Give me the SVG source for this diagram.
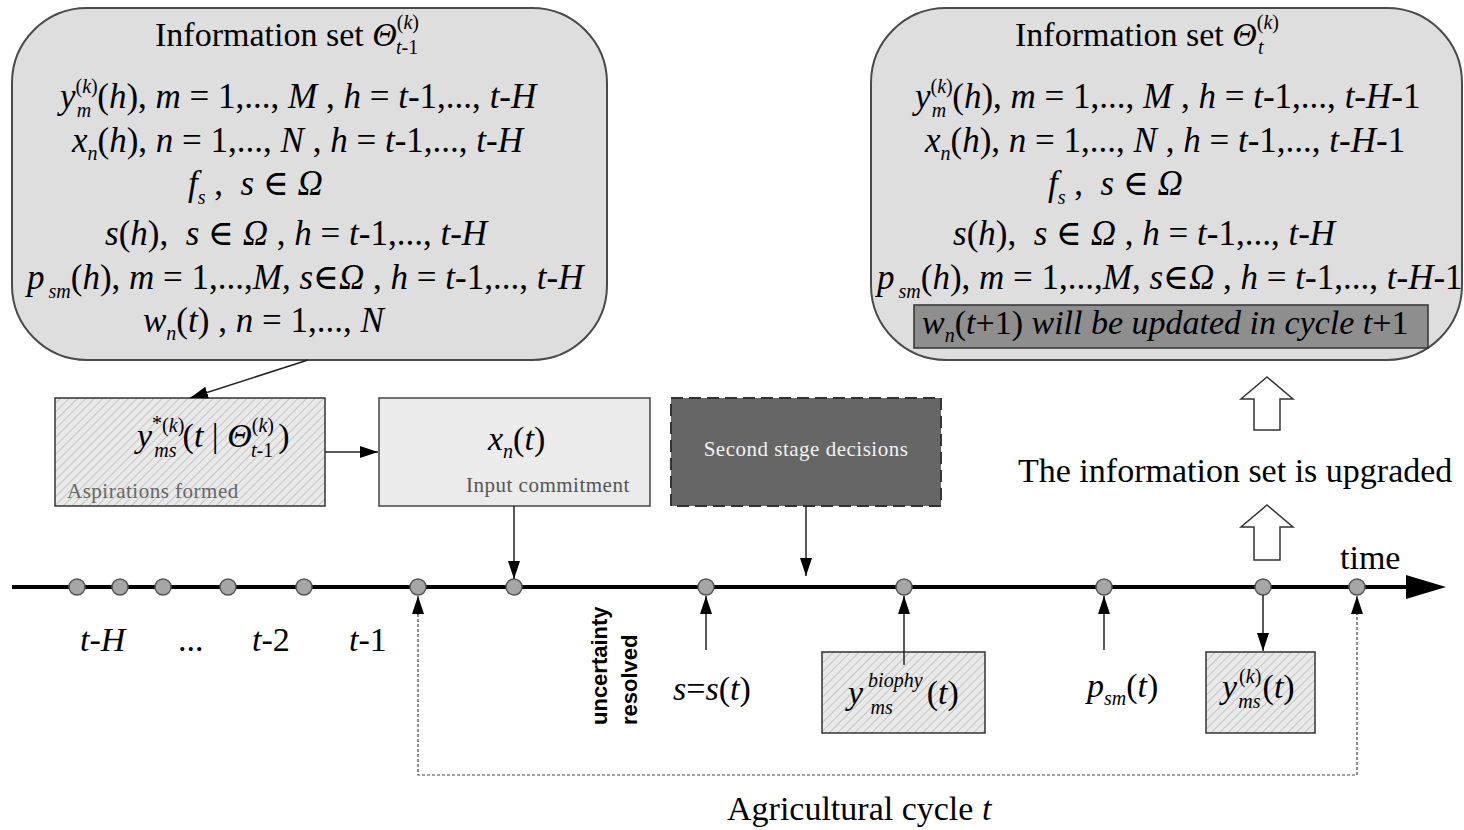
<svg xmlns="http://www.w3.org/2000/svg" width="1464" height="830" viewBox="0 0 1464 830">
<style>
.m{font-family:"Liberation Serif","DejaVu Serif",serif;font-size:34px;fill:#000}
.b{font-size:35px}
.i{font-style:italic}
.s{font-size:20px}
.lbl{font-family:"Liberation Serif",serif;font-size:21px;letter-spacing:0.5px}
.bub{fill:#dedede;stroke:#4a4a4a;stroke-width:2}
.dot{fill:#a6a6a6;stroke:#555;stroke-width:1.5}
.ar{stroke:#222;stroke-width:1.5;fill:none}
.dt{stroke:#444;stroke-width:1.2;fill:none;stroke-dasharray:3 2}
.hollow{fill:#fff;stroke:#333;stroke-width:1.5}
.unc{font-family:"Liberation Sans",Arial,sans-serif;font-weight:bold;font-size:22px}
</style>
<defs>
<pattern id="hatch" width="6" height="6" patternUnits="userSpaceOnUse" patternTransform="rotate(45)">
<rect width="6" height="6" fill="#e9e9e9"/>
<line x1="0" y1="0" x2="0" y2="6" stroke="#b2b2b2" stroke-width="1.3"/>
</pattern>
<marker id="ah" viewBox="0 0 18 12" refX="18" refY="6" markerWidth="18" markerHeight="12" markerUnits="userSpaceOnUse" orient="auto">
<path d="M0,0 L18,6 L0,12 z" fill="#000"/>
</marker>
</defs>
<rect width="1464" height="830" fill="#fff"/>

<g id="info-prev">
<rect class="bub" x="12" y="8" width="595" height="352" rx="75" ry="75"/>
<text class="m" x="155" y="46">Information set <tspan class="i">Θ</tspan><tspan class="s" dy="-17">(<tspan class="i">k</tspan>)</tspan><tspan class="s" dx="-23" dy="25"><tspan class="i">t</tspan>-1</tspan></text>
<text class="m b" x="60" y="108"><tspan class="i">y</tspan><tspan class="s" dy="-15">(<tspan class="i">k</tspan>)</tspan><tspan class="s i" dx="-21" dy="24">m</tspan><tspan dx="6" dy="-9">(<tspan class="i">h</tspan>), <tspan class="i">m</tspan> = 1,..., <tspan class="i">M</tspan> , <tspan class="i">h</tspan> = <tspan class="i">t</tspan>-1,..., <tspan class="i">t</tspan>-<tspan class="i">H</tspan></tspan></text>
<text class="m b" x="72" y="152"><tspan class="i">x</tspan><tspan class="s i" dy="8">n</tspan><tspan dy="-8">(<tspan class="i">h</tspan>), <tspan class="i">n</tspan> = 1,..., <tspan class="i">N</tspan> , <tspan class="i">h</tspan> = <tspan class="i">t</tspan>-1,..., <tspan class="i">t</tspan>-<tspan class="i">H</tspan></tspan></text>
<text class="m b" x="188" y="195"><tspan class="i">f</tspan><tspan class="s i" dy="9">s</tspan><tspan dy="-9"> ,&#160;&#160;<tspan class="i">s</tspan> ∈ <tspan class="i">Ω</tspan></tspan></text>
<text class="m b" x="105" y="245"><tspan class="i">s</tspan>(<tspan class="i">h</tspan>),&#160;&#160;<tspan class="i">s</tspan> ∈ <tspan class="i">Ω</tspan> , <tspan class="i">h</tspan> = <tspan class="i">t</tspan>-1,..., <tspan class="i">t</tspan>-<tspan class="i">H</tspan></text>
<text class="m b" x="27" y="289"><tspan class="i">p</tspan><tspan class="s i" dx="4" dy="9">sm</tspan><tspan dy="-9">(<tspan class="i">h</tspan>), <tspan class="i">m</tspan> = 1,...,<tspan class="i">M,</tspan> <tspan class="i">s</tspan>∈<tspan class="i">Ω</tspan> , <tspan class="i">h</tspan> = <tspan class="i">t</tspan>-1,..., <tspan class="i">t</tspan>-<tspan class="i">H</tspan></tspan></text>
<text class="m b" x="143" y="332"><tspan class="i">w</tspan><tspan class="s i" dy="8">n</tspan><tspan dy="-8">(<tspan class="i">t</tspan>) , <tspan class="i">n</tspan> = 1,..., <tspan class="i">N</tspan></tspan></text>
</g>

<g id="info-next">
<rect class="bub" x="871" y="8" width="591" height="352" rx="75" ry="75"/>
<rect x="914" y="305" width="514" height="43" fill="#8e8e8e" stroke="#333" stroke-width="1.5"/>
<text class="m" x="1015" y="46">Information set <tspan class="i">Θ</tspan><tspan class="s" dy="-17">(<tspan class="i">k</tspan>)</tspan><tspan class="s i" dx="-21" dy="25">t</tspan></text>
<text class="m b" x="915" y="108"><tspan class="i">y</tspan><tspan class="s" dy="-15">(<tspan class="i">k</tspan>)</tspan><tspan class="s i" dx="-21" dy="24">m</tspan><tspan dx="6" dy="-9">(<tspan class="i">h</tspan>), <tspan class="i">m</tspan> = 1,..., <tspan class="i">M</tspan> , <tspan class="i">h</tspan> = <tspan class="i">t</tspan>-1,..., <tspan class="i">t</tspan>-<tspan class="i">H</tspan>-1</tspan></text>
<text class="m b" x="925" y="152"><tspan class="i">x</tspan><tspan class="s i" dy="8">n</tspan><tspan dy="-8">(<tspan class="i">h</tspan>), <tspan class="i">n</tspan> = 1,..., <tspan class="i">N</tspan> , <tspan class="i">h</tspan> = <tspan class="i">t</tspan>-1,..., <tspan class="i">t</tspan>-<tspan class="i">H</tspan>-1</tspan></text>
<text class="m b" x="1048" y="195"><tspan class="i">f</tspan><tspan class="s i" dy="9">s</tspan><tspan dy="-9"> ,&#160;&#160;<tspan class="i">s</tspan> ∈ <tspan class="i">Ω</tspan></tspan></text>
<text class="m b" x="953" y="245"><tspan class="i">s</tspan>(<tspan class="i">h</tspan>),&#160;&#160;<tspan class="i">s</tspan> ∈ <tspan class="i">Ω</tspan> , <tspan class="i">h</tspan> = <tspan class="i">t</tspan>-1,..., <tspan class="i">t</tspan>-<tspan class="i">H</tspan></text>
<text class="m b" x="877" y="289"><tspan class="i">p</tspan><tspan class="s i" dx="4" dy="9">sm</tspan><tspan dy="-9">(<tspan class="i">h</tspan>), <tspan class="i">m</tspan> = 1,...,<tspan class="i">M,</tspan> <tspan class="i">s</tspan>∈<tspan class="i">Ω</tspan> , <tspan class="i">h</tspan> = <tspan class="i">t</tspan>-1,..., <tspan class="i">t</tspan>-<tspan class="i">H</tspan>-1</tspan></text>
<text class="m" x="922" y="334"><tspan class="i">w</tspan><tspan class="s i" dy="8">n</tspan><tspan dy="-8">(<tspan class="i">t</tspan>+1) <tspan class="i">will be updated in cycle t</tspan>+1</tspan></text>
</g>

<g id="aspirations">
<rect x="55" y="398" width="270" height="108" fill="url(#hatch)" stroke="#333" stroke-width="1.5"/>
<text class="m" x="137" y="447" font-size="32"><tspan class="i">y</tspan><tspan class="s" dy="-17">*<tspan dy="2">(<tspan class="i">k</tspan>)</tspan></tspan><tspan class="s i" dx="-30" dy="25">ms</tspan><tspan dx="6" dy="-10">(<tspan class="i">t</tspan> | <tspan class="i">Θ</tspan></tspan><tspan class="s" dy="-15">(<tspan class="i">k</tspan>)</tspan><tspan class="s" dx="-23" dy="25"><tspan class="i">t</tspan>-1</tspan><tspan dx="5" dy="-10">)</tspan></text>
<text class="lbl" x="67" y="498" fill="#666">Aspirations formed</text>
</g>

<g id="input">
<rect x="379" y="398" width="271" height="108" fill="#ebebeb" stroke="#444" stroke-width="1.5"/>
<text class="m" x="488" y="450"><tspan class="i">x</tspan><tspan class="s i" dy="8">n</tspan><tspan dy="-8">(<tspan class="i">t</tspan>)</tspan></text>
<text class="lbl" x="466" y="492" fill="#555">Input commitment</text>
</g>

<g id="second-stage">
<rect x="671" y="398" width="270" height="108" fill="#666" stroke="#333" stroke-width="2" stroke-dasharray="12 6"/>
<text class="lbl" x="806" y="456" fill="#f2f2f2" text-anchor="middle">Second stage decisions</text>
</g>

<g id="upgrade">
<polygon class="hollow" points="1267,377 1293,399 1280,399 1280,430 1254,430 1254,399 1241,399"/>
<polygon class="hollow" points="1267,505 1293,527 1280,527 1280,560 1254,560 1254,527 1241,527"/>
<text class="m" x="1018" y="482">The information set is upgraded</text>
</g>

<g id="timeline">
<line x1="12" y1="587" x2="1412" y2="587" stroke="#000" stroke-width="4"/>
<polygon points="1406,575 1446,587 1406,599" fill="#000"/>
<text class="m" x="1340" y="569">time</text>
<circle class="dot" cx="77" cy="587" r="8"/>
<circle class="dot" cx="120" cy="587" r="8"/>
<circle class="dot" cx="163" cy="587" r="8"/>
<circle class="dot" cx="228" cy="587" r="8"/>
<circle class="dot" cx="304" cy="587" r="8"/>
<circle class="dot" cx="418" cy="587" r="8"/>
<circle class="dot" cx="514" cy="587" r="8"/>
<circle class="dot" cx="706" cy="587" r="8"/>
<circle class="dot" cx="904" cy="587" r="8"/>
<circle class="dot" cx="1104" cy="587" r="8"/>
<circle class="dot" cx="1263" cy="587" r="8"/>
<circle class="dot" cx="1357" cy="587" r="8"/>
<text class="m" x="80" y="651"><tspan class="i">t</tspan>-<tspan class="i">H</tspan></text>
<text class="m" x="178" y="651">...</text>
<text class="m" x="252" y="651"><tspan class="i">t</tspan>-2</text>
<text class="m" x="349" y="651"><tspan class="i">t</tspan>-1</text>
</g>

<g id="uncertainty">
<text class="unc" transform="translate(607,725) rotate(-90)">uncertainty</text>
<text class="unc" transform="translate(637,725) rotate(-90)">resolved</text>
</g>

<g id="state">
<text class="m" x="673" y="700"><tspan class="i">s</tspan>=<tspan class="i">s</tspan>(<tspan class="i">t</tspan>)</text>
</g>

<g id="biophy">
<rect x="822" y="652" width="163" height="81" fill="url(#hatch)" stroke="#333" stroke-width="1.5"/>
<text class="m" x="848" y="704"><tspan class="i">y</tspan><tspan class="s i" dx="5" dy="-17">biophy</tspan><tspan class="s i" dx="-52" dy="27">ms</tspan><tspan dx="34" dy="-10">(<tspan class="i">t</tspan>)</tspan></text>
</g>

<g id="price">
<text class="m" x="1087" y="697"><tspan class="i">p</tspan><tspan class="s i" dy="8">sm</tspan><tspan dy="-8">(<tspan class="i">t</tspan>)</tspan></text>
</g>

<g id="yield">
<rect x="1206" y="652" width="109" height="81" fill="url(#hatch)" stroke="#333" stroke-width="1.5"/>
<text class="m" x="1222" y="698"><tspan class="i">y</tspan><tspan class="s" dx="2" dy="-15">(<tspan class="i">k</tspan>)</tspan><tspan class="s i" dx="-23" dy="25">ms</tspan><tspan dx="2" dy="-10">(<tspan class="i">t</tspan>)</tspan></text>
</g>

<g id="cycle">
<text class="m" x="727" y="820">Agricultural cycle <tspan class="i">t</tspan></text>
</g>

<g id="connectors">
<line class="ar" x1="308" y1="360" x2="190" y2="398" marker-end="url(#ah)"/>
<line class="ar" x1="325" y1="452" x2="378" y2="452" marker-end="url(#ah)"/>
<line class="ar" x1="514" y1="506" x2="514" y2="579" marker-end="url(#ah)"/>
<line class="ar" x1="806" y1="506" x2="806" y2="576" marker-end="url(#ah)"/>
<line class="ar" x1="706" y1="650" x2="706" y2="596" marker-end="url(#ah)"/>
<line class="ar" x1="904" y1="665" x2="904" y2="596" marker-end="url(#ah)"/>
<line class="ar" x1="1104" y1="650" x2="1104" y2="596" marker-end="url(#ah)"/>
<line class="ar" x1="1263" y1="595" x2="1263" y2="651" marker-end="url(#ah)"/>
<path class="dt" d="M418,614 L418,775 L1357,775 L1357,614"/>
<line x1="418" y1="615" x2="418" y2="596" stroke="#444" stroke-width="1.2" marker-end="url(#ah)"/>
<line x1="1357" y1="615" x2="1357" y2="596" stroke="#444" stroke-width="1.2" marker-end="url(#ah)"/>
</g>
</svg>
